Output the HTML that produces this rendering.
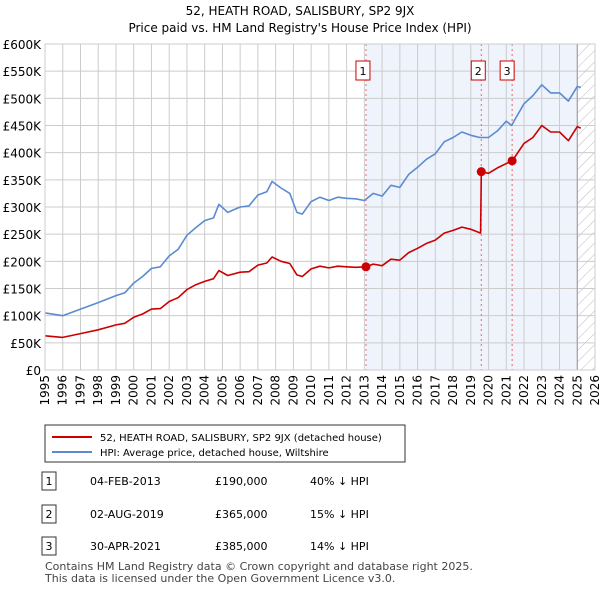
<!DOCTYPE html>
<html><head><meta charset="utf-8"><style>
body{margin:0;background:#fff;font-family:"Liberation Sans","DejaVu Sans",sans-serif;}
svg text{font-family:"DejaVu Sans","Liberation Sans",sans-serif;}
</style></head><body>
<svg id="c" width="600" height="590" xmlns="http://www.w3.org/2000/svg">
<defs><pattern id="h" width="8" height="8" patternUnits="userSpaceOnUse" patternTransform="rotate(45)"><line x1="0" y1="0" x2="0" y2="8" stroke="#bbb" stroke-width="1"/></pattern></defs>
<text x="300" y="15" text-anchor="middle" font-size="12">52, HEATH ROAD, SALISBURY, SP2 9JX</text>
<text x="300" y="32" text-anchor="middle" font-size="12">Price paid vs. HM Land Registry's House Price Index (HPI)</text>
<g id="plot"></g>
<rect x="45" y="425" width="360" height="37" fill="#fff" stroke="#333"/>
<line x1="52" y1="437" x2="92" y2="437" stroke="#cc0000" stroke-width="2"/>
<text x="100" y="441" font-size="10">52, HEATH ROAD, SALISBURY, SP2 9JX (detached house)</text>
<line x1="52" y1="452" x2="92" y2="452" stroke="#5b8bd0" stroke-width="2"/>
<text x="100" y="456" font-size="10">HPI: Average price, detached house, Wiltshire</text>
<g id="tbl"></g>
<text x="45" y="570" font-size="11" fill="#444">Contains HM Land Registry data © Crown copyright and database right 2025.</text>
<text x="45" y="582" font-size="11" fill="#444">This data is licensed under the Open Government Licence v3.0.</text>
</svg>
<script>
const hpiYears=[1995,1996,1997,1998,1999,1999.5,2000,2000.5,2001,2001.5,2002,2002.5,2003,2003.5,2004,2004.5,2004.8,2005.3,2006,2006.5,2007,2007.5,2007.8,2008.3,2008.8,2009.2,2009.5,2010,2010.5,2011,2011.5,2012,2012.5,2013,2013.5,2014,2014.5,2015,2015.5,2016,2016.5,2017,2017.5,2018,2018.5,2019,2019.5,2020,2020.5,2021,2021.3,2021.5,2022,2022.5,2023,2023.5,2024,2024.5,2025,2025.2];
const hpiValues=[105,100,112,124,137,142,160,172,187,190,210,222,248,262,275,280,305,290,300,302,322,328,347,335,325,290,287,310,318,312,318,316,315,312,325,320,340,336,360,373,388,398,420,428,438,432,428,428,440,458,450,462,490,505,525,510,510,495,522,520];
const priceYears=[1995,1996,1997,1998,1999,1999.5,2000,2000.5,2001,2001.5,2002,2002.5,2003,2003.5,2004,2004.5,2004.8,2005.3,2006,2006.5,2007,2007.5,2007.8,2008.3,2008.8,2009.2,2009.5,2010,2010.5,2011,2011.5,2012,2012.5,2013.09,2013.5,2014,2014.5,2015,2015.5,2016,2016.5,2017,2017.5,2018,2018.5,2019,2019.55,2019.59,2020,2020.5,2021.33,2021.5,2022,2022.5,2023,2023.5,2024,2024.5,2025,2025.2];
const priceValues=[63,60,67,74,83,86,97,103,112,113,126,133,148,157,163,168,183,174,180,181,193,197,208,200,196,175,172,186,191,188,191,190,189,190,195,192,204,202,216,224,233,239,252,257,263,259,252,365,362,372,385,393,417,428,450,438,438,422,448,445];
const saleLabels=["1","2","3"];
const saleYears=[2013.09,2019.59,2021.33];
const saleValues=[190,365,385];
const saleDates=["04-FEB-2013","02-AUG-2019","30-APR-2021"];
const salePrices=["£190,000","£365,000","£385,000"];
const saleDiffs=["40% ↓ HPI","15% ↓ HPI","14% ↓ HPI"];
const yTicks=[0,50,100,150,200,250,300,350,400,450,500,550,600];
const xTicks=[1995,1996,1997,1998,1999,2000,2001,2002,2003,2004,2005,2006,2007,2008,2009,2010,2011,2012,2013,2014,2015,2016,2017,2018,2019,2020,2021,2022,2023,2024,2025,2026];

const NS="http://www.w3.org/2000/svg";
const L=45,R=595,T=44,B=370,X0=1995,X1=2026,YMAX=600;
const xs=v=>L+(v-X0)/(X1-X0)*(R-L);
const ys=v=>B-v/YMAX*(B-T);
const g=document.getElementById('plot');
function mk(tag,a,p){const e=document.createElementNS(NS,tag);for(const k in a)e.setAttribute(k,a[k]);(p||g).appendChild(e);return e;}
let e;
e=mk('rect',{x:xs(2013.09),y:T,width:xs(2025)-xs(2013.09),height:B-T,fill:'#eef3fc'});


e=mk('rect',{x:xs(2025),y:T,width:R-xs(2025),height:B-T,fill:'url(#h)'});


yTicks.forEach(v=>{
 e=mk('line',{x1:L,x2:R,y1:ys(v),y2:ys(v),stroke:'#ccc'});
 
 
 e=mk('text',{x:L-4,y:ys(v)+5,'text-anchor':'end','font-size':'12'});
 e.textContent=v===0?'£0':'£'+v+'K';
 
 
});
xTicks.forEach(v=>{
 e=mk('line',{x1:xs(v),x2:xs(v),y1:T,y2:B,stroke:'#ccc'});
 
 
 e=mk('text',{x:0,y:0,'text-anchor':'end','font-size':'12',transform:`translate(${xs(v)+4},${B+5}) rotate(-90)`});
 e.textContent=v;
 
 
});
e=mk('line',{x1:xs(2025),x2:xs(2025),y1:T,y2:B,stroke:'#999'});


saleYears.forEach((v,i)=>{
 e=mk('line',{x1:xs(v),x2:xs(v),y1:T,y2:B,stroke:'#e66','stroke-dasharray':'2,3'});
 
 
});
function path(xa,ya,col,name){
 const d=xa.map((x,i)=>(i?'L':'M')+xs(x).toFixed(1)+','+ys(ya[i]).toFixed(1)).join('');
 e=mk('path',{d:d,fill:'none',stroke:col,'stroke-width':'1.6','stroke-linejoin':'round'});
 
 
}
path(hpiYears,hpiValues,'#5b8bd0','hpi-line');
path(priceYears,priceValues,'#cc0000','price-line');
const boxOff=[-3,-3,-5];
saleYears.forEach((v,i)=>{
 e=mk('circle',{cx:xs(v),cy:ys(saleValues[i]),r:4.5,fill:'#cc0000'});
 
 
 const cx=xs(v)+boxOff[i];
 e=mk('rect',{x:cx-7,y:61,width:14,height:19,fill:'#fff',stroke:'#cc0000'});
 
 
 const t=mk('text',{x:cx,y:75,'text-anchor':'middle','font-size':'11'});
 t.textContent=saleLabels[i];
 
 
});
e=mk('rect',{x:L,y:T,width:R-L,height:B-T,fill:'none',stroke:'#ccc'});
const tb=document.getElementById('tbl');
const rowY=[481,514,546];
saleLabels.forEach((s,i)=>{
 const y=rowY[i];
 e=mk('rect',{x:42,y:y-9,width:14,height:18,fill:'#fff',stroke:'#333'},tb);
 
 
 const cells=[[49,s,'middle'],[90,saleDates[i],'start'],[215,salePrices[i],'start'],[310,saleDiffs[i],'start']];
 cells.forEach(c=>{
  e=mk('text',{x:c[0],y:y+4,'text-anchor':c[2],'font-size':'11'},tb);
  e.textContent=c[1];
  
  
 });
});
</script>
</body></html>
